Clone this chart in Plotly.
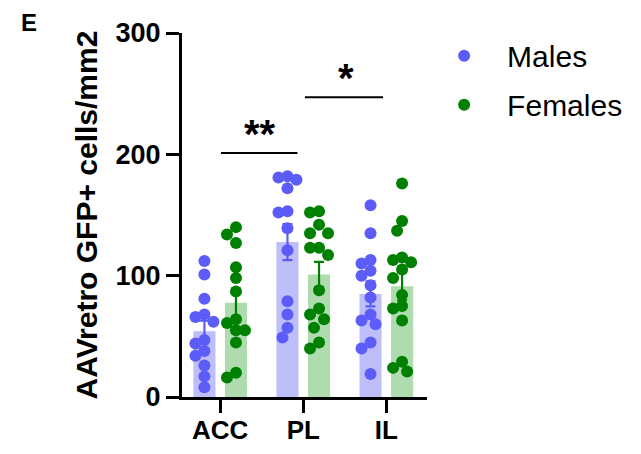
import numpy as np
import plotly.graph_objects as go

categories = ["ACC", "PL", "IL"]
males = [
    [112, 101, 81, 68, 66, 62, 47, 44, 38, 34, 26, 17, 8],
    [182, 181, 179, 172, 153, 152, 139, 121, 79, 68, 57, 49],
    [158, 135, 113, 110, 104, 100, 92, 82, 68, 63, 60, 45, 40, 19],
]
females = [
    [140, 134, 127, 107, 98, 87, 64, 61, 55, 55, 45, 20, 16],
    [153, 152, 142, 135, 135, 123, 123, 117, 88, 73, 68, 64, 57, 45, 40],
    [176, 145, 137, 115, 113, 111, 105, 98, 84, 75, 73, 63, 29, 24, 21],
]
y_ticks = [0, 100, 200, 300]
sig_labels = ["**", "*"]

MALE_DOT = "rgb(92,92,248)"
MALE_BAR = "rgb(190,190,251)"
FEM_DOT = "rgb(0,128,0)"
FEM_BAR = "rgb(174,220,174)"
FONT = "Liberation Sans"

# pixel scales (used only for the deterministic swarm layout)
PX_X = 83.0
PX_Y = 1.213
SHIFT = 0.19


def swarm(vals, d=10.5):
    order = sorted(range(len(vals)), key=lambda i: -vals[i])
    placed = []
    offs = [0.0] * len(vals)
    cands = [0, -5, 5, -9, 9]
    for i in order:
        y = vals[i] * PX_Y
        best, bestd = 0, -1
        for c in cands:
            md = min([np.hypot(c - px, y - py) for px, py in placed] + [1e9])
            if md >= d:
                best = c
                bestd = md
                break
            if md > bestd:
                best, bestd = c, md
        offs[i] = best / PX_X
        placed.append((best, y))
    return offs


def mean(v):
    return float(np.mean(v))


def sem(v):
    return float(np.std(v, ddof=1) / np.sqrt(len(v)))


idx = list(range(len(categories)))
fig = go.Figure()

fig.add_trace(go.Bar(
    x=idx, y=[mean(v) for v in males], marker_color=MALE_BAR, marker_line_width=0,
    error_y=dict(type="data", array=[sem(v) for v in males], color=MALE_DOT, thickness=2.2, width=5),
    showlegend=False, hoverinfo="skip"))
fig.add_trace(go.Bar(
    x=idx, y=[mean(v) for v in females], marker_color=FEM_BAR, marker_line_width=0,
    error_y=dict(type="data", array=[sem(v) for v in females], color=FEM_DOT, thickness=2.2, width=5),
    showlegend=False, hoverinfo="skip"))

for name, data, col, sgn in [("Males", males, MALE_DOT, -1), ("Females", females, FEM_DOT, 1)]:
    xs, ys = [], []
    for i, v in enumerate(data):
        offs = swarm(v)
        xs += [i + sgn * SHIFT + o for o in offs]
        ys += v
    fig.add_trace(go.Scatter(x=xs, y=ys, mode="markers", name=name, legendgroup=name,
                             marker=dict(color=col, size=12, line_width=0)))

# significance brackets
fig.add_shape(type="line", x0=0.01, x1=0.93, y0=201, y1=201, line=dict(color="black", width=2))
fig.add_shape(type="line", x0=1.02, x1=1.96, y0=247, y1=247, line=dict(color="black", width=2))
fig.add_annotation(x=0.48, y=217, text="<b>" + sig_labels[0] + "</b>", showarrow=False,
                   font=dict(family=FONT, size=40, color="black"))
fig.add_annotation(x=1.52, y=263, text="<b>" + sig_labels[1] + "</b>", showarrow=False,
                   font=dict(family=FONT, size=40, color="black"))

fig.add_annotation(xref="paper", yref="paper", x=-0.665, y=0.985, xanchor="left", yanchor="bottom",
                   text="<b>E</b>", showarrow=False, font=dict(family=FONT, size=24, color="black"))

# page body has an 8px margin: the figure is sized to fit the window
fig.update_layout(
    width=633, height=446,
    margin=dict(l=174, r=214, t=25, b=57, autoexpand=False),
    plot_bgcolor="white", paper_bgcolor="white",
    barmode="group", bargap=0.24, bargroupgap=0.30,
    font=dict(family=FONT, color="black"),
    legend=dict(x=0.976, y=1.009, xanchor="left", yanchor="top",
                font=dict(family=FONT, size=30, color="black"),
                tracegroupgap=7, itemwidth=76),
    showlegend=True,
)
fig.update_xaxes(range=[-0.46, 2.49], tickvals=idx, ticktext=["<b>%s</b>" % c for c in categories],
                 showline=True, linecolor="black", linewidth=3, ticks="outside", ticklen=13,
                 tickwidth=3, tickcolor="black", showgrid=False, zeroline=False, automargin=False,
                 ticklabelstandoff=-5,
                 tickfont=dict(family=FONT, size=26, color="black"))
fig.update_yaxes(range=[0, 300], tickvals=y_ticks, ticktext=["<b>%d</b>" % t for t in y_ticks],
                 showline=True, linecolor="black", linewidth=3, ticks="outside", ticklen=13,
                 tickwidth=3, tickcolor="black", showgrid=False, zeroline=False, automargin=False,
                 tickfont=dict(family=FONT, size=27, color="black"),
                 title=dict(text="<b>AAVretro GFP+ cells/mm2</b>", standoff=10,
                            font=dict(family=FONT, size=30, color="black")))

fig.write_html("out.html")
